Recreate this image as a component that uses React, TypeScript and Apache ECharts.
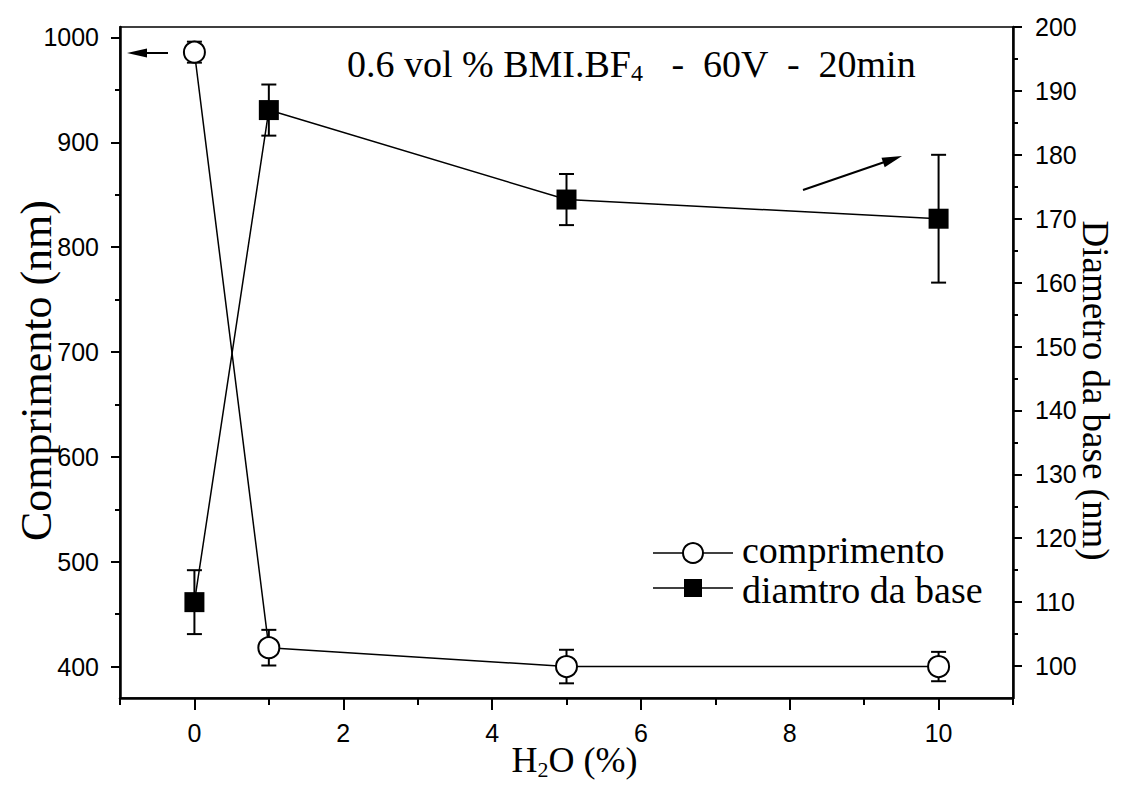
import React, { useEffect, useRef } from "react";
import * as echarts from "echarts";

// ---- data ----
const X_VALUES = [0, 1, 5, 10];
const COMPRIMENTO = [986, 418, 400, 400];
const COMPRIMENTO_ERR = [10, 17, 16, 14];
const DIAMETRO = [110, 187, 173, 170];
const DIAMETRO_ERR = [5, 4, 4, 10];

// ---- ticks ----
const X_LABELS = [0, 2, 4, 6, 8, 10];
const X_MINOR = [-1, 1, 3, 5, 7, 9, 11];
const LEFT_LABELS = [400, 500, 600, 700, 800, 900, 1000];
const LEFT_MINOR = [450, 550, 650, 750, 850, 950];
const RIGHT_LABELS = [100, 110, 120, 130, 140, 150, 160, 170, 180, 190, 200];
const RIGHT_MINOR = [105, 115, 125, 135, 145, 155, 165, 175, 185, 195];

const SERIF = "Liberation Serif";
const SANS = "Liberation Sans";

export default function App() {
  const ref = useRef<HTMLDivElement>(null);

  useEffect(() => {
    if (!ref.current) return;
    const chart = echarts.init(ref.current, null, { renderer: "svg" });

    const labelStyle = {
      fontFamily: SANS,
      fontSize: 25,
      color: "#000",
      formatter: (v: number) => String(v),
    };
    const subRich = (size: number) => ({
      sub: { fontFamily: SERIF, fontSize: size, color: "#000", padding: [18, 0, 0, 0] },
    });

    const errData = (ys: number[], errs: number[]) =>
      X_VALUES.map((x, i) => [x, ys[i] - errs[i], ys[i] + errs[i]]);

    const renderErr = (params: any, api: any) => {
      const x = api.value(0);
      const lo = api.coord([x, api.value(1)]);
      const hi = api.coord([x, api.value(2)]);
      const cap = 7.5;
      const style = { stroke: "#000", lineWidth: 2 };
      return {
        type: "group",
        children: [
          { type: "line", shape: { x1: lo[0], y1: lo[1], x2: hi[0], y2: hi[1] }, style },
          { type: "line", shape: { x1: lo[0] - cap, y1: lo[1], x2: lo[0] + cap, y2: lo[1] }, style },
          { type: "line", shape: { x1: hi[0] - cap, y1: hi[1], x2: hi[0] + cap, y2: hi[1] }, style },
        ],
      };
    };

    const axisLine = { show: true, onZero: false, lineStyle: { color: "#000", width: 2.5 } };
    const noLine = { show: false, onZero: false };

    const option: any = {
      animation: false,
      backgroundColor: "#fff",
      title: {
        text: "0.6 vol % BMI.BF{sub|4}   -  60V  -  20min",
        left: 342,
        top: 38,
        textStyle: {
          fontFamily: SERIF,
          fontSize: 38,
          fontWeight: "normal",
          color: "#000",
          rich: subRich(24),
        },
      },
      grid: {
        left: 120,
        right: 115,
        top: 27,
        bottom: 90,
        show: true,
        borderColor: "#000",
        borderWidth: 1.5,
        containLabel: false,
        outerBoundsMode: "none",
      },
      xAxis: [
        {
          type: "value",
          min: -1,
          max: 11,
          position: "bottom",
          axisLine,
          axisTick: { show: true, customValues: X_LABELS, length: 12, lineStyle: { color: "#000", width: 2 } },
          axisLabel: { customValues: X_LABELS, margin: 22, ...labelStyle },
          splitLine: { show: false },
          name: "H{sub|2}O (%)",
          nameLocation: "middle",
          nameGap: 42,
          nameMoveOverlap: false,
          nameTextStyle: {
            fontFamily: SERIF,
            fontSize: 36,
            color: "#000",
            padding: [0, 0, 0, 16],
            rich: subRich(22),
          },
        },
        {
          type: "value",
          min: -1,
          max: 11,
          position: "bottom",
          axisLine: noLine,
          axisTick: { show: true, customValues: X_MINOR, length: 7, lineStyle: { color: "#000", width: 2 } },
          axisLabel: { show: false },
          splitLine: { show: false },
        },
      ],
      yAxis: [
        {
          type: "value",
          min: 370,
          max: 1010,
          position: "left",
          axisLine,
          axisTick: { show: true, customValues: LEFT_LABELS, length: 9, lineStyle: { color: "#000", width: 2 } },
          axisLabel: { customValues: LEFT_LABELS, margin: 21, ...labelStyle },
          splitLine: { show: false },
          name: "Comprimento (nm)",
          nameLocation: "middle",
          nameRotate: 90,
          nameGap: 62,
          nameMoveOverlap: false,
          nameTextStyle: { fontFamily: SERIF, fontSize: 44, color: "#000", padding: [0, 16, 0, 0] },
        },
        {
          type: "value",
          min: 95,
          max: 200,
          position: "right",
          axisLine,
          axisTick: { show: true, customValues: RIGHT_LABELS, length: 9, lineStyle: { color: "#000", width: 2 } },
          axisLabel: { customValues: RIGHT_LABELS, margin: 22, ...labelStyle },
          splitLine: { show: false },
          name: "Diametro da base (nm)",
          nameLocation: "middle",
          nameRotate: -90,
          nameGap: 64,
          nameMoveOverlap: false,
          nameTextStyle: { fontFamily: SERIF, fontSize: 37, color: "#000", padding: [0, 0, 0, 56] },
        },
        {
          type: "value",
          min: 370,
          max: 1010,
          position: "left",
          axisLine: noLine,
          axisTick: { show: true, customValues: LEFT_MINOR, length: 5, lineStyle: { color: "#000", width: 2 } },
          axisLabel: { show: false },
          splitLine: { show: false },
        },
        {
          type: "value",
          min: 95,
          max: 200,
          position: "right",
          axisLine: noLine,
          axisTick: { show: true, customValues: RIGHT_MINOR, length: 5, lineStyle: { color: "#000", width: 2 } },
          axisLabel: { show: false },
          splitLine: { show: false },
        },
      ],
      series: [
        {
          name: "comprimento",
          type: "line",
          xAxisIndex: 0,
          yAxisIndex: 0,
          data: X_VALUES.map((x, i) => [x, COMPRIMENTO[i]]),
          symbol: "circle",
          symbolSize: 21,
          itemStyle: { color: "#fff", borderColor: "#000", borderWidth: 2 },
          lineStyle: { color: "#000", width: 1.5 },
          z: 3,
        },
        {
          name: "diamtro da base",
          type: "line",
          xAxisIndex: 0,
          yAxisIndex: 1,
          data: X_VALUES.map((x, i) => [x, DIAMETRO[i]]),
          symbol: "rect",
          symbolSize: 20,
          itemStyle: { color: "#000", borderColor: "#000", borderWidth: 0 },
          lineStyle: { color: "#000", width: 1.5 },
          z: 3,
        },
        {
          type: "custom",
          xAxisIndex: 0,
          yAxisIndex: 0,
          data: errData(COMPRIMENTO, COMPRIMENTO_ERR),
          renderItem: renderErr,
          z: 1,
        },
        {
          type: "custom",
          xAxisIndex: 0,
          yAxisIndex: 1,
          data: errData(DIAMETRO, DIAMETRO_ERR),
          renderItem: renderErr,
          z: 1,
        },
      ],
      graphic: [
        // arrows
        { type: "line", shape: { x1: 168, y1: 53, x2: 142, y2: 53 }, style: { stroke: "#000", lineWidth: 2 } },
        { type: "polygon", shape: { points: [[127, 53], [147, 48.5], [147, 57.5]] }, style: { fill: "#000" } },
        { type: "line", shape: { x1: 803, y1: 190, x2: 886, y2: 161.5 }, style: { stroke: "#000", lineWidth: 2 } },
        { type: "polygon", shape: { points: [[902, 156], [884.7, 167.2], [881.5, 157.8]] }, style: { fill: "#000" } },
        // legend
        { type: "line", shape: { x1: 653, y1: 553, x2: 733, y2: 553 }, style: { stroke: "#000", lineWidth: 1.5 } },
        { type: "circle", shape: { cx: 693, cy: 553, r: 10 }, style: { fill: "#fff", stroke: "#000", lineWidth: 2 } },
        {
          type: "text",
          x: 742,
          y: 550,
          style: { text: "comprimento", fontFamily: SERIF, fontSize: 38, fill: "#000", verticalAlign: "middle" },
        },
        { type: "line", shape: { x1: 653, y1: 588, x2: 733, y2: 588 }, style: { stroke: "#000", lineWidth: 1.5 } },
        { type: "rect", shape: { x: 684, y: 579, width: 18, height: 18 }, style: { fill: "#000" } },
        {
          type: "text",
          x: 742,
          y: 590,
          style: { text: "diamtro da base", fontFamily: SERIF, fontSize: 38, fill: "#000", verticalAlign: "middle" },
        },
      ],
    };

    chart.setOption(option);
    return () => chart.dispose();
  }, []);

  return (
    <div
      ref={ref}
      style={{ position: "fixed", left: 0, top: 0, width: 1128, height: 788, background: "#fff" }}
    />
  );
}
